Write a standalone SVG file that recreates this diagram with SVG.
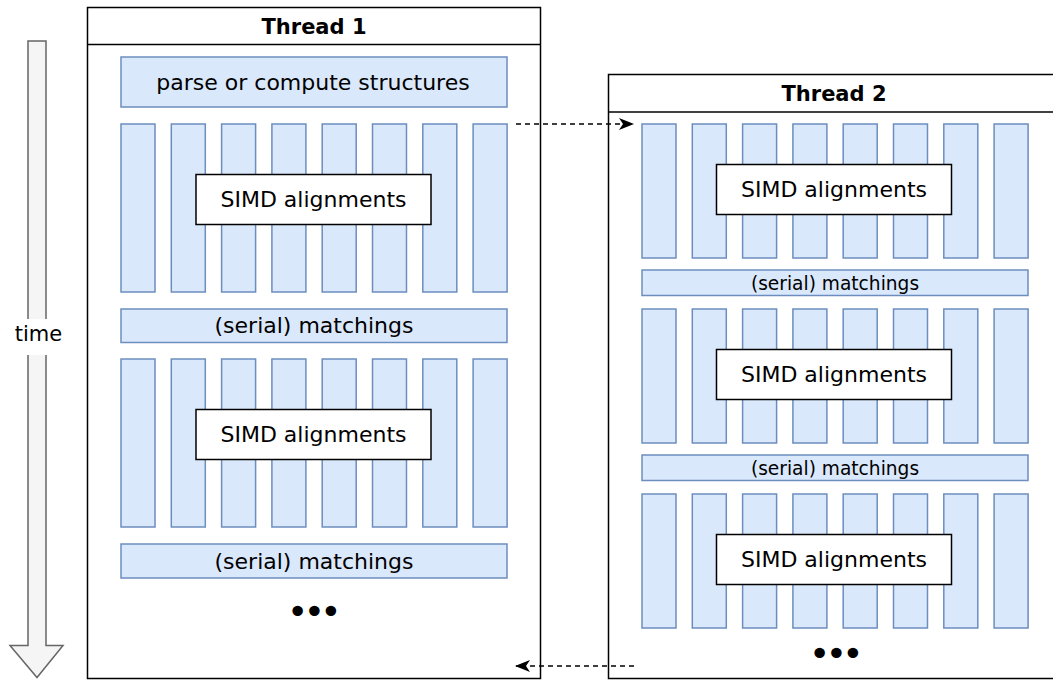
<svg xmlns="http://www.w3.org/2000/svg" width="1053" height="680" viewBox="0 0 1053 680">
  <style>
    text { font-family: "DejaVu Sans", Verdana, sans-serif; fill: #000; text-anchor: middle; dominant-baseline: central; }
    .thread { fill: #fff; stroke: #000; stroke-width: 1.5; }
    .head { font-weight: bold; font-size: 21px; }
    .lane { fill: #dae8fc; stroke: #6c8ebf; stroke-width: 1.5; }
    .simd { fill: #fff; stroke: #000; stroke-width: 1.5; }
    .lbl { font-size: 22px; }
    .small { font-size: 18.6px; }
    .dots { font-size: 36px; letter-spacing: -4.5px; }
    .flow { fill: none; stroke: #000; stroke-width: 1.5; stroke-dasharray: 5 4; }
  </style>
  <defs>
    <marker id="arrow" viewBox="0 0 15 12" refX="14" refY="6" markerWidth="15" markerHeight="12" markerUnits="userSpaceOnUse" orient="auto">
      <path d="M0,0 L15,6 L0,12 L4,6 Z" fill="#000"/>
    </marker>
    <!-- one column of eight SIMD lanes -->
    <g id="lanes-t1">
      <rect class="lane" x="121" y="0" width="34" height="168"/>
      <rect class="lane" x="171.3" y="0" width="34" height="168"/>
      <rect class="lane" x="221.6" y="0" width="34" height="168"/>
      <rect class="lane" x="271.9" y="0" width="34" height="168"/>
      <rect class="lane" x="322.2" y="0" width="34" height="168"/>
      <rect class="lane" x="372.5" y="0" width="34" height="168"/>
      <rect class="lane" x="422.8" y="0" width="34" height="168"/>
      <rect class="lane" x="473.1" y="0" width="34" height="168"/>
    </g>
    <g id="lanes-t2">
      <rect class="lane" x="642" y="0" width="34" height="134"/>
      <rect class="lane" x="692.3" y="0" width="34" height="134"/>
      <rect class="lane" x="742.6" y="0" width="34" height="134"/>
      <rect class="lane" x="792.9" y="0" width="34" height="134"/>
      <rect class="lane" x="843.2" y="0" width="34" height="134"/>
      <rect class="lane" x="893.5" y="0" width="34" height="134"/>
      <rect class="lane" x="943.8" y="0" width="34" height="134"/>
      <rect class="lane" x="994.1" y="0" width="34" height="134"/>
    </g>
  </defs>

  <rect width="1053" height="680" fill="#fff"/>

  <!-- time axis -->
  <g id="time">
    <path d="M28,41 H46 V645.5 H63 L37,677.5 L10,645.5 H28 Z" fill="#f5f5f5" stroke="#666" stroke-width="1.5"/>
    <rect x="14" y="319" width="49" height="36" fill="#fff"/>
    <text x="38.5" y="334" style="font-size:21px">time</text>
  </g>

  <!-- first worker thread -->
  <g id="thread1">
    <rect class="thread" x="87.5" y="7.5" width="453" height="671"/>
    <line x1="87.5" y1="44.5" x2="540.5" y2="44.5" stroke="#000" stroke-width="1.5"/>
    <text class="head" x="314" y="26.5">Thread 1</text>
    <g id="t1-parse">
      <rect class="lane" x="121" y="57" width="386" height="50"/>
      <text class="lbl" x="313" y="82">parse or compute structures</text>
    </g>
    <use href="#lanes-t1" y="124"/>
    <g id="t1-simd1">
      <rect class="simd" x="196" y="174.5" width="235" height="50"/>
      <text class="lbl" x="313.5" y="199.5">SIMD alignments</text>
    </g>
    <g id="t1-match1">
      <rect class="lane" x="121" y="309" width="386" height="33.5"/>
      <text class="lbl" x="314" y="325.5">(serial) matchings</text>
    </g>
    <use href="#lanes-t1" y="359"/>
    <g id="t1-simd2">
      <rect class="simd" x="196" y="409.5" width="235" height="50"/>
      <text class="lbl" x="313.5" y="434.5">SIMD alignments</text>
    </g>
    <g id="t1-match2">
      <rect class="lane" x="121" y="544" width="386" height="34"/>
      <text class="lbl" x="314" y="561">(serial) matchings</text>
    </g>
    <text class="dots" x="312" y="611">•••</text>
  </g>

  <!-- second worker thread -->
  <g id="thread2">
    <rect class="thread" x="608.5" y="74.5" width="451" height="604"/>
    <line x1="608.5" y1="112" x2="1059.5" y2="112" stroke="#000" stroke-width="1.5"/>
    <text class="head" x="834" y="94">Thread 2</text>
    <use href="#lanes-t2" y="124"/>
    <g id="t2-simd1">
      <rect class="simd" x="716.5" y="164.5" width="235" height="50"/>
      <text class="lbl" x="834" y="189.5">SIMD alignments</text>
    </g>
    <g id="t2-match1">
      <rect class="lane" x="642" y="270" width="386" height="25.5"/>
      <text class="small" x="835" y="283">(serial) matchings</text>
    </g>
    <use href="#lanes-t2" y="309"/>
    <g id="t2-simd2">
      <rect class="simd" x="716.5" y="349.5" width="235" height="50"/>
      <text class="lbl" x="834" y="374.5">SIMD alignments</text>
    </g>
    <g id="t2-match2">
      <rect class="lane" x="642" y="455" width="386" height="25.5"/>
      <text class="small" x="835" y="468">(serial) matchings</text>
    </g>
    <use href="#lanes-t2" y="494"/>
    <g id="t2-simd3">
      <rect class="simd" x="716.5" y="534.5" width="235" height="50"/>
      <text class="lbl" x="834" y="559.5">SIMD alignments</text>
    </g>
    <text class="dots" x="834" y="653">•••</text>
  </g>

  <!-- hand-off between threads -->
  <g id="connectors">
    <line class="flow" x1="516" y1="124" x2="633" y2="124" marker-end="url(#arrow)"/>
    <line class="flow" x1="634" y1="666" x2="516" y2="666" marker-end="url(#arrow)"/>
  </g>
</svg>
